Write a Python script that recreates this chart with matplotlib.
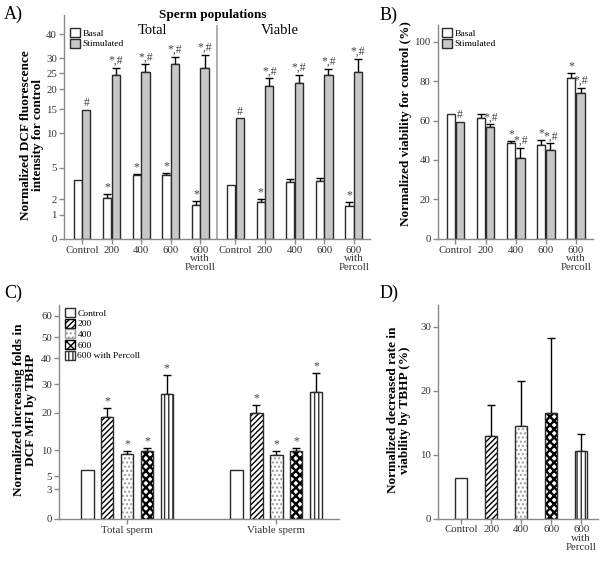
import numpy as np
import matplotlib
matplotlib.use("Agg")
import matplotlib.pyplot as plt
from matplotlib.patches import Patch

plt.rcParams['font.family'] = ['Liberation Serif', 'DejaVu Serif']
plt.rcParams['hatch.linewidth'] = 1.0

# ---------------- data ----------------
groups_a = ["Control", "200", "400", "600", "600\nwith\nPercoll"]
a_total_basal = [3.83, 2.15, 4.27, 4.3, 1.65]
a_total_basal_err = [0, 0.38, 0.1, 0.2, 0.24]
a_total_stim = [14.85, 24.4, 25.4, 28.1, 26.7]
a_total_stim_err = [0, 2.5, 2.6, 2.6, 4.7]
a_viable_basal = [3.36, 1.81, 3.67, 3.77, 1.59]
a_viable_basal_err = [0, 0.25, 0.23, 0.29, 0.22]
a_viable_stim = [13.1, 21.0, 21.9, 24.4, 25.5]
a_viable_stim_err = [0, 2.4, 2.6, 2.1, 4.3]
a_basal_marks_total = ["", "*", "*", "*", "*"]
a_basal_marks_viable = ["", "*", "", "", "*"]
a_stim_marks = ["#", "*,#", "*,#", "*,#", "*,#"]
a_yticks = [0, 1, 2, 5, 10, 15, 20, 25, 30, 40]

b_basal = [63.1, 61.4, 48.4, 47.4, 81.4]
b_basal_err = [0, 2.1, 1.4, 2.7, 2.9]
b_stim = [59.4, 56.5, 40.8, 45.0, 73.8]
b_stim_err = [0, 1.6, 5.4, 3.4, 2.9]
b_basal_marks = ["", "", "*", "*", "*"]
b_stim_marks = ["#", "*,#", "*,#", "*,#", "*,#"]

c_groups = ["Total sperm", "Viable sperm"]
c_series = ["Control", "200", "400", "600", "600 with Percoll"]
c_total = [6.1, 18.9, 9.2, 9.8, 26.7]
c_total_err = [0, 2.8, 0.6, 0.8, 6.9]
c_viable = [6.1, 19.8, 9.0, 9.9, 27.2]
c_viable_err = [0, 3.0, 0.8, 0.7, 7.2]
c_marks = ["", "*", "*", "*", "*"]
c_yticks = [0, 3, 5, 10, 20, 30, 40, 50, 60]

d_values = [6.35, 12.9, 14.5, 16.5, 10.6]
d_err = [0, 4.9, 7.0, 11.7, 2.6]

# ---------------- styling ----------------
W, H = 605, 562
fig = plt.figure(figsize=(W / 100, H / 100), dpi=100)
SPINE = '#8a8a8a'
TXT = '#333333'
EDGE = '#2b2b2b'
GREY = '#c8c8c8'
TICKFS = 7.8


def rect(l, r, t, b):
    return [l / W, (H - b) / H, (r - l) / W, (b - t) / H]


def style(ax):
    for s in ['top', 'right']:
        ax.spines[s].set_visible(False)
    for s in ['left', 'bottom']:
        ax.spines[s].set_color(SPINE)
        ax.spines[s].set_linewidth(1.0)
    ax.tick_params(axis='both', colors=SPINE, labelcolor=TXT, labelsize=TICKFS,
                   length=3.5, width=1.0, pad=1.5)


def interp_scale(vals, pos):
    vals = np.asarray(vals, float)
    pos = np.asarray(pos, float)
    f = lambda v: np.interp(v, vals, pos)
    g = lambda p: np.interp(p, pos, vals)
    return f, g


def errs(ax, x, y, e):
    x = np.asarray(x); y = np.asarray(y); e = np.asarray(e)
    m = e > 0
    ax.errorbar(x[m], y[m], yerr=[np.zeros(m.sum()), e[m]], fmt='none',
                ecolor='black', elinewidth=1.0, capsize=3.2, capthick=1.0, zorder=1)


def marks(ax, x, tops, labels, fs=8.5, dy=0.5):
    for xi, t, lab in zip(x, tops, labels):
        if lab:
            ax.annotate(lab, (xi, t), xytext=(0, dy), textcoords='offset points',
                        ha='center', va='bottom', fontsize=fs, color='#444444')


LEG = dict(loc='upper left', frameon=False, fontsize=6.8, handlelength=1.1,
           handleheight=1.1, handletextpad=0.25, labelspacing=0.1,
           borderaxespad=0.1, borderpad=0.2)

# ---------------- Panel A ----------------
axA = fig.add_axes(rect(64, 370, 15, 238.7))
style(axA)
fA, gA = interp_scale([0, 1, 2, 5, 10, 15, 20, 25, 30, 40, 50],
                      [0, 23.7, 39.4, 71, 105.4, 129.4, 149.4, 165.4, 180.4, 204.4, 228.4])
axA.set_yscale('function', functions=(fA, gA))
axA.set_ylim(0, 48)
axA.set_yticks(a_yticks)
axA.set_yticklabels([str(t) for t in a_yticks])
xt = np.arange(5)
xv = np.arange(5) + 5.19
off, bw = 0.146, 0.28
for xs, basal, be, stim, se, bm in [
        (xt, a_total_basal, a_total_basal_err, a_total_stim, a_total_stim_err, a_basal_marks_total),
        (xv, a_viable_basal, a_viable_basal_err, a_viable_stim, a_viable_stim_err, a_basal_marks_viable)]:
    b1 = axA.bar(xs - off, basal, bw, color='white', edgecolor=EDGE, linewidth=1.0, zorder=2)
    b2 = axA.bar(xs + off, stim, bw, color=GREY, edgecolor=EDGE, linewidth=1.0, zorder=2)
    errs(axA, xs - off, basal, be)
    errs(axA, xs + off, stim, se)
    marks(axA, xs - off, np.add(basal, be), bm)
    marks(axA, xs + off, np.add(stim, se), a_stim_marks)
axA.set_xlim(-0.61, 9.74)
axA.set_xticks(np.concatenate([xt, xv]))
axA.set_xticklabels(groups_a * 2, linespacing=0.95)
axA.axvline(4.57, color='#a0a0a0', lw=1.2, ymax=0.95)
axA.legend([b1, b2], ['Basal', 'Stimulated'], bbox_to_anchor=(0.01, 0.955), **LEG)
fig.text(213 / W, 1 - 15 / H, 'Sperm populations', ha='center', va='center',
         fontsize=9.5, fontweight='bold')
fig.text(152 / W, 1 - 30 / H, 'Total', ha='center', va='center', fontsize=10.5)
fig.text(280 / W, 1 - 30 / H, 'Viable', ha='center', va='center', fontsize=10.5)
fig.text(32 / W, 1 - 135 / H, 'Normalized DCF fluorescence\nintensity for control',
         rotation=90, ha='center', va='center', fontsize=9.5, fontweight='bold',
         linespacing=1.05)

# ---------------- Panel B ----------------
axB = fig.add_axes(rect(437.7, 593, 25, 238.7))
style(axB)
xb = np.arange(5)
ob, wb = 0.157, 0.277
p1 = axB.bar(xb - ob, b_basal, wb, color='white', edgecolor=EDGE, linewidth=1.0, zorder=2)
p2 = axB.bar(xb + ob, b_stim, wb, color=GREY, edgecolor=EDGE, linewidth=1.0, zorder=2)
errs(axB, xb - ob, b_basal, b_basal_err)
errs(axB, xb + ob, b_stim, b_stim_err)
marks(axB, xb - ob, np.add(b_basal, b_basal_err), b_basal_marks)
marks(axB, xb + ob, np.add(b_stim, b_stim_err), b_stim_marks)
axB.set_ylim(0, 108.5)
axB.set_yticks([0, 20, 40, 60, 80, 100])
axB.set_xlim(-0.59, 4.57)
axB.set_xticks(xb)
axB.set_xticklabels(groups_a, linespacing=0.95)
axB.legend([p1, p2], ['Basal', 'Stimulated'], bbox_to_anchor=(0.01, 1.0), **LEG)
fig.text(406 / W, 1 - 124 / H, 'Normalized viability for control (%)',
         rotation=90, ha='center', va='center', fontsize=9.5, fontweight='bold')

# ---------------- pattern helper ----------------
hatches = [None, '//////', '....', 'xxxx', '||||']
hatch_cols = [EDGE, 'black', '#9a9a9a', 'black', '#333333']
hatch_lws = [1.0, 1.0, 1.0, 1.7, 1.0]


def make_hatch_patch(i):
    with plt.rc_context({'hatch.linewidth': hatch_lws[i]}):
        p = Patch(facecolor='white', edgecolor=hatch_cols[i], hatch=hatches[i], linewidth=1.0)
    if hasattr(p, 'set_hatch_linewidth'):
        p.set_hatch_linewidth(hatch_lws[i])
    return p


def pattern_bar(ax, x, h, w, i):
    if hatches[i] is None:
        ax.bar(x, h, w, color='white', edgecolor=EDGE, linewidth=1.0, zorder=2)
        return
    with plt.rc_context({'hatch.linewidth': hatch_lws[i]}):
        bars = ax.bar(x, h, w, color='white', edgecolor=hatch_cols[i], hatch=hatches[i],
                      linewidth=0, zorder=2)
    for p in bars:
        if hasattr(p, 'set_hatch_linewidth'):
            p.set_hatch_linewidth(hatch_lws[i])
    ax.bar(x, h, w, fill=False, edgecolor=EDGE, linewidth=1.0, zorder=2.1)


# ---------------- Panel C ----------------
axC = fig.add_axes(rect(59, 339, 305, 519))
style(axC)
fC, gC = interp_scale([0, 3, 5, 10, 20, 30, 40, 50, 60, 70],
                      [0, 30, 43, 69, 106.3, 134.7, 160.7, 181.7, 203.3, 224.9])
axC.set_yscale('function', functions=(fC, gC))
axC.set_ylim(0, 65)
axC.set_yticks(c_yticks)
axC.set_yticklabels([str(t) for t in c_yticks])
step, wc = 0.133, 0.083
for gi, (vals, ev) in enumerate([(c_total, c_total_err), (c_viable, c_viable_err)]):
    for i in range(5):
        x = gi + (i - 2) * step
        pattern_bar(axC, x, vals[i], wc, i)
        errs(axC, [x], [vals[i]], [ev[i]])
        marks(axC, [x], [vals[i] + ev[i]], [c_marks[i]])
handles = [Patch(facecolor='white', edgecolor=EDGE, linewidth=1.0)]
handles += [make_hatch_patch(i) for i in range(1, 5)]
axC.set_xlim(-0.456, 1.42)
axC.set_xticks([0, 1])
axC.set_xticklabels(c_groups)
axC.legend(handles, c_series, bbox_to_anchor=(0.01, 1.0), **LEG)
fig.text(25 / W, 1 - 410 / H, 'Normalized increasing folds in\nDCF MFI by TBHP',
         rotation=90, ha='center', va='center', fontsize=9.5, fontweight='bold',
         linespacing=1.05)

# ---------------- Panel D ----------------
axD = fig.add_axes(rect(438, 598, 305, 518.5))
style(axD)
xd = np.arange(5)
for i in range(5):
    pattern_bar(axD, xd[i], d_values[i], 0.42, i)
errs(axD, xd, d_values, d_err)
axD.set_ylim(0, 33.4)
axD.set_yticks([0, 10, 20, 30])
axD.set_xlim(-0.77, 4.56)
axD.set_xticks(xd)
axD.set_xticklabels(groups_a, linespacing=0.95)
fig.text(399 / W, 1 - 410 / H, 'Normalized decreased rate in\nviability by TBHP (%)',
         rotation=90, ha='center', va='center', fontsize=9.5, fontweight='bold',
         linespacing=1.05)

# panel letters
for lab, x, y in [('A)', 4, 14), ('B)', 380, 15), ('C)', 4, 293), ('D)', 380, 293)]:
    fig.text(x / W, 1 - y / H, lab, ha='left', va='center', fontsize=13)

fig.savefig('out.png', dpi=100)
